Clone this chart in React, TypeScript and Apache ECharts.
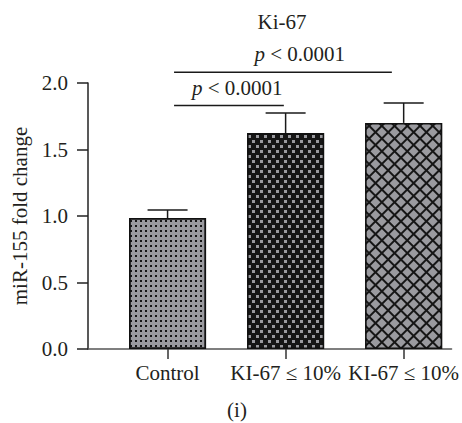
import React, { useEffect, useRef } from "react";
import * as echarts from "echarts";

const categories = ["Control", "KI-67 ≤ 10%", "KI-67 ≤ 10%"];
const means = [0.985, 1.624, 1.7];
const errTops = [1.045, 1.774, 1.85];
// brackets: [xStart, xEnd, y, textX]
const brackets = [
  [0.055, 0.985, 1.83, 0.59],
  [0.055, 1.9, 2.08, 1.12],
];
const pLabel = "{i|p} < 0.0001";
const yTicks = { min: 0, max: 2, interval: 0.5 };

const FONT = "'Liberation Serif', 'DejaVu Serif', serif";
const FS = 21;
const TXT = "#231f20";
const GRAY = "#9a9a9f";
const BLACK = "#161616";

export default function App() {
  const ref = useRef<HTMLDivElement>(null);
  useEffect(() => {
    document.body.style.margin = "0";
    const chart = echarts.init(ref.current!, null, { renderer: "svg" });
    const decals = [
      {
        symbol: "rect",
        symbolSize: 1,
        color: BLACK,
        dashArrayX: [2, 3],
        dashArrayY: [2, 3],
      },
      {
        symbol: "rect",
        symbolSize: 1,
        color: GRAY,
        dashArrayX: [
          [3, 5],
          [0, 4, 3, 1],
        ],
        dashArrayY: [3, 1.7],
      },
      {
        symbol: "rect",
        symbolSize: 1,
        color: GRAY,
        dashArrayX: [6.3, 1.3],
        dashArrayY: [6.3, 1.3],
        rotation: Math.PI / 4,
      },
    ];
    const barColors = [GRAY, BLACK, BLACK];
    chart.setOption({
      animation: false,
      grid: { left: 88, top: 83, right: 6, bottom: 74, containLabel: false },
      xAxis: {
        type: "value",
        min: -0.674,
        max: 2.406,
        splitLine: { show: false },
        axisLine: { onZero: false, lineStyle: { color: "#555", width: 1.5 } },
        axisTick: {
          show: true,
          length: 10,
          customValues: [0, 1, 2],
          lineStyle: { color: "#333", width: 1.5 },
        },
        axisLabel: {
          customValues: [0, 1, 2],
          formatter: (v: number) => categories[Math.round(v)] ?? "",
          fontFamily: FONT,
          fontSize: FS,
          color: TXT,
          margin: 13,
        },
      },
      yAxis: {
        type: "value",
        min: yTicks.min,
        max: yTicks.max,
        interval: yTicks.interval,
        name: "miR-155 fold change",
        nameLocation: "middle",
        nameGap: 52,
        nameTextStyle: { fontFamily: FONT, fontSize: FS, color: TXT },
        splitLine: { show: false },
        axisLine: { show: true, onZero: false, lineStyle: { color: "#222", width: 1.5 } },
        axisTick: { show: true, length: 11, lineStyle: { color: "#222", width: 1.5 } },
        axisLabel: {
          formatter: (v: number) => v.toFixed(1),
          fontFamily: FONT,
          fontSize: FS,
          color: TXT,
          margin: 20,
        },
      },
      graphic: [
        {
          type: "text",
          x: 282,
          y: 22,
          style: {
            text: "Ki-67",
            fontFamily: FONT,
            fontSize: FS,
            fill: TXT,
            textAlign: "center",
            textVerticalAlign: "middle",
          },
        },
        {
          type: "text",
          x: 237,
          y: 410,
          style: {
            text: "(i)",
            fontFamily: FONT,
            fontSize: FS,
            fill: TXT,
            textAlign: "center",
            textVerticalAlign: "middle",
          },
        },
      ],
      series: [
        {
          type: "bar",
          barWidth: 77,
          data: means.map((m, i) => ({
            value: [i, m],
            itemStyle: {
              color: barColors[i],
              borderColor: "#111",
              borderWidth: 1.5,
              decal: decals[i],
            },
          })),
        },
        {
          type: "custom",
          clip: false,
          data: means.map((m, i) => [i, m, errTops[i]]),
          renderItem: (params: any, api: any) => {
            const x = api.value(0);
            const p0 = api.coord([x, api.value(1)]);
            const p1 = api.coord([x, api.value(2)]);
            const hw = 20;
            const st = { stroke: "#1a1a1a", lineWidth: 1.5 };
            return {
              type: "group",
              children: [
                { type: "line", shape: { x1: p0[0], y1: p0[1], x2: p1[0], y2: p1[1] }, style: st },
                { type: "line", shape: { x1: p1[0] - hw, y1: p1[1], x2: p1[0] + hw, y2: p1[1] }, style: st },
              ],
            };
          },
          z: 3,
        },
        {
          type: "custom",
          clip: false,
          data: brackets,
          renderItem: (params: any, api: any) => {
            const a = api.coord([api.value(0), api.value(2)]);
            const b = api.coord([api.value(1), api.value(2)]);
            const t = api.coord([api.value(3), api.value(2)]);
            return {
              type: "group",
              children: [
                {
                  type: "line",
                  shape: { x1: a[0], y1: a[1], x2: b[0], y2: b[1] },
                  style: { stroke: "#1a1a1a", lineWidth: 1.5 },
                },
                {
                  type: "text",
                  x: t[0],
                  y: t[1] - 18,
                  style: {
                    text: pLabel,
                    fontFamily: FONT,
                    fontSize: FS,
                    fill: TXT,
                    textAlign: "center",
                    textVerticalAlign: "middle",
                    rich: {
                      i: { fontStyle: "italic", fontFamily: FONT, fontSize: FS, fill: TXT },
                    },
                  },
                },
              ],
            };
          },
          z: 3,
        },
      ],
    });
    return () => chart.dispose();
  }, []);
  return <div ref={ref} style={{ width: 462, height: 423 }} />;
}
